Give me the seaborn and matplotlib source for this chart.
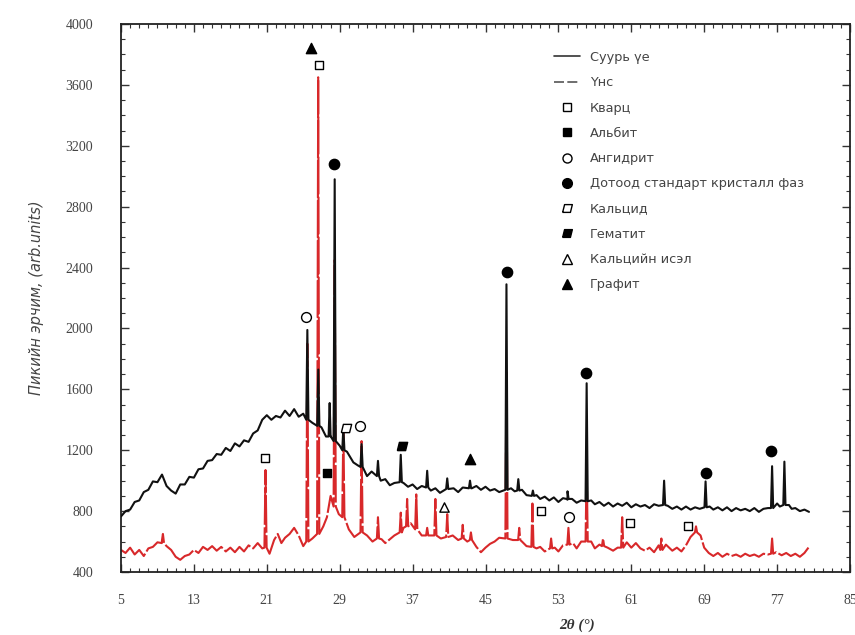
import seaborn as sns
import matplotlib.pyplot as plt
import pandas as pd
import numpy as np
from matplotlib.lines import Line2D
from matplotlib.path import Path

# ---- data ----
# base trace (Суурь үе), background points every 0.5 deg
base_x = [5.0, 5.5, 6.0, 6.5, 7.0, 7.5, 8.0, 8.5, 9.0, 9.5, 10.0, 10.5, 11.0, 11.5, 12.0, 12.5,
          13.0, 13.5, 14.0, 14.5, 15.0, 15.5, 16.0, 16.5, 17.0, 17.5, 18.0, 18.5, 19.0, 19.5,
          20.0, 20.5, 21.0, 21.5, 22.0, 22.5, 23.0, 23.5, 24.0, 24.5, 25.0, 26.0, 27.0, 27.5,
          28.0, 29.0, 29.8, 30.5, 31.0, 32.0, 32.5, 33.5, 34.0, 34.5, 35.0, 36.0, 36.5, 37.0,
          37.5, 38.0, 39.0, 39.5, 40.0, 41.5, 42.0, 42.5, 43.5, 44.0, 44.5, 45.0, 45.5, 46.0,
          46.5, 47.8, 48.2, 49.0, 49.5, 50.6, 51.0, 51.5, 52.0, 52.5, 53.0, 53.5, 54.0, 54.5,
          55.0, 55.5, 56.6, 57.0, 57.5, 58.0, 58.5, 59.0, 59.5, 60.0, 60.5, 61.0, 61.5, 62.0,
          62.5, 63.0, 63.5, 64.0, 65.0, 65.5, 66.0, 66.5, 67.0, 67.5, 68.0, 68.5, 69.6, 70.0,
          70.5, 71.0, 71.5, 72.0, 72.5, 73.0, 73.5, 74.0, 74.5, 75.0, 75.5, 76.0, 77.0, 77.3,
          78.3, 78.6, 79.0, 79.5, 80.0, 80.5]
base_y = [765, 800, 810, 860, 870, 925, 940, 995, 990, 1040, 965, 935, 915, 975, 975, 1025,
          1020, 1075, 1080, 1130, 1135, 1175, 1170, 1215, 1195, 1245, 1225, 1265, 1255, 1310,
          1330, 1400, 1430, 1400, 1425, 1415, 1460, 1425, 1470, 1420, 1440, 1380, 1350, 1290,
          1290, 1230, 1190, 1120, 1100, 1030, 1060, 1000, 1010, 970, 985, 985, 960, 975,
          945, 965, 935, 950, 920, 950, 925, 955, 950, 965, 940, 960, 935, 945,
          925, 950, 930, 940, 905, 905, 880, 895, 870, 890, 860, 885, 875, 880,
          855, 870, 870, 845, 860, 835, 855, 830, 850, 835, 855, 825, 845, 830,
          840, 820, 845, 835, 835, 815, 830, 810, 830, 810, 825, 815, 830, 810,
          825, 805, 825, 800, 820, 805, 815, 800, 820, 795, 815, 820, 850, 830,
          840, 815, 820, 800, 810, 795]
# sharp reflections: position, top, foot
base_peak_pos = [25.45, 26.65, 27.9, 28.45, 29.4, 31.4, 33.2, 35.7, 38.6, 40.8, 43.3,
                 47.3, 48.6, 50.2, 54.0, 56.1, 64.6, 69.15, 76.45, 77.8]
base_peak_top = [1990, 1730, 1510, 2980, 1345, 1240, 1130, 1170, 1065, 1015, 1000,
                 2290, 1010, 935, 930, 1640, 1000, 995, 1095, 1125]
base_peak_foot = [1400, 1360, 1290, 1260, 1200, 1090, 1030, 990, 955, 945, 950,
                  940, 935, 900, 880, 865, 840, 825, 820, 840]

# ash trace (Үнс)
ash_x = [5.0, 5.5, 6.0, 6.5, 7.0, 7.5, 8.0, 8.5, 9.0, 9.5, 10.0, 10.5, 11.0, 11.5, 12.0, 12.5,
         13.0, 13.5, 14.0, 14.5, 15.0, 15.5, 16.0, 16.5, 17.0, 17.5, 18.0, 18.5, 19.0, 19.5,
         20.0, 20.5, 21.3, 21.8, 22.2, 22.6, 23.0, 23.5, 24.0, 24.5, 25.0, 26.0, 27.2, 27.6,
         28.0, 28.9, 30.0, 30.6, 32.0, 32.6, 33.6, 34.0, 34.5, 35.0, 36.0, 36.8, 38.0, 39.0,
         40.1, 41.4, 42.0, 43.0, 44.0, 44.5, 45.0, 45.5, 46.0, 46.5, 48.0, 49.0, 49.5, 50.6,
         51.0, 51.5, 52.6, 53.0, 53.5, 54.6, 55.0, 55.5, 56.6, 57.0, 57.5, 58.4, 59.0, 59.5,
         60.5, 61.0, 61.5, 62.0, 62.5, 63.0, 63.5, 64.0, 64.8, 65.5, 66.0, 66.5, 67.0, 67.5,
         68.6, 69.0, 69.5, 70.0, 70.5, 71.0, 71.5, 72.0, 72.5, 73.0, 73.5, 74.0, 74.5, 75.0,
         75.5, 76.0, 76.9, 77.5, 78.0, 78.5, 79.0, 79.5, 80.0, 80.5]
ash_y = [545, 525, 560, 515, 545, 505, 555, 565, 595, 610, 570, 545, 500, 480, 505, 515,
         545, 525, 565, 545, 570, 540, 565, 535, 560, 530, 565, 535, 575, 555,
         590, 555, 520, 610, 650, 590, 625, 650, 690, 640, 570, 620, 700, 760,
         900, 780, 680, 630, 640, 600, 615, 590, 615, 640, 690, 720, 640, 640,
         620, 640, 610, 600, 565, 530, 560, 585, 600, 625, 610, 600, 570, 555,
         565, 535, 560, 535, 575, 590, 555, 600, 600, 555, 580, 560, 540, 560,
         595, 560, 590, 555, 540, 560, 530, 575, 580, 540, 560, 535, 575, 630,
         640, 560, 525, 505, 525, 500, 520, 505, 515, 500, 520, 505, 515, 500,
         520, 515, 530, 510, 525, 505, 520, 500, 525, 565]
ash_peak_pos = [9.6, 20.86, 25.45, 26.64, 28.45, 29.4, 31.4, 33.2, 35.7, 36.4, 37.4, 38.6,
                39.5, 40.8, 42.5, 43.4, 47.3, 48.7, 50.15, 52.2, 54.1, 56.1, 57.9, 60.0,
                64.3, 68.1, 76.45]
ash_peak_top = [650, 1070, 1900, 3650, 2450, 1350, 1260, 760, 790, 880, 910, 690,
                880, 780, 710, 660, 1720, 690, 850, 620, 690, 1100, 620, 760,
                620, 700, 620]
ash_peak_foot = [590, 560, 600, 650, 830, 760, 660, 620, 660, 700, 680, 640,
                 640, 630, 620, 610, 620, 610, 565, 555, 580, 600, 570, 560,
                 545, 660, 520]

# phase markers
quartz_x = [26.7, 20.8, 51.1, 60.9, 67.2]
quartz_y = [3730, 1150, 800, 720, 700]
albite_x = [27.6]
albite_y = [1050]
anhydrite_x = [25.35, 31.2, 54.2]
anhydrite_y = [2075, 1360, 760]
standard_x = [28.4, 47.35, 56.0, 69.2, 76.3]
standard_y = [3080, 2370, 1710, 1050, 1195]
calcite_x = [29.7]
calcite_y = [1345]
hematite_x = [35.8]
hematite_y = [1225]
cao_x = [40.5]
cao_y = [830]
graphite_x = [25.9, 43.3]
graphite_y = [3840, 1145]

legend_labels = ['Суурь үе', 'Үнс', 'Кварц', 'Альбит', 'Ангидрит',
                 'Дотоод стандарт кристалл фаз', 'Кальцид', 'Гематит',
                 'Кальцийн исэл', 'Графит']


def build_trace(bx, by, ppos, ptop, pfoot, name):
    xs = list(bx)
    ys = list(by)
    for p, t, f in zip(ppos, ptop, pfoot):
        xs += [p - 0.12, p, p + 0.12]
        ys += [f, t, f]
    df = pd.DataFrame({'x': xs, 'y': ys}).sort_values('x')
    df['trace'] = name
    return df


black = build_trace(base_x, base_y, base_peak_pos, base_peak_top, base_peak_foot, 'base')
red = build_trace(ash_x, ash_y, ash_peak_pos, ash_peak_top, ash_peak_foot, 'ash')

sns.set_style('ticks')
plt.rcParams['font.family'] = ['DejaVu Sans']

fig = plt.figure(figsize=(8.55, 6.35), dpi=100)
ax = fig.add_axes([121 / 855, 1 - 572 / 635, 729 / 855, 548 / 635])

sns.lineplot(data=red, x='x', y='y', color='#d8282a', lw=1.5,
             estimator=None, sort=False, ax=ax, zorder=2)
ax.lines[-1].set_dashes((18, 1.2))
sns.lineplot(data=black, x='x', y='y', color='#111111', lw=1.5,
             estimator=None, sort=False, ax=ax, zorder=3)

para = Path([(-1.0, -0.8), (0.6, -0.8), (1.0, 0.8), (-0.6, 0.8), (-1.0, -0.8)])
mk = dict(color='black', zorder=5, linewidths=1.0)
ax.scatter(quartz_x, quartz_y, marker='s', s=34, facecolors='white', edgecolors='black', zorder=5, linewidths=1.0)
ax.scatter(albite_x, albite_y, marker='s', s=34, **mk)
ax.scatter(anhydrite_x, anhydrite_y, marker='o', s=50, facecolors='white', edgecolors='black', zorder=5, linewidths=1.0)
ax.scatter(standard_x, standard_y, marker='o', s=55, **mk)
ax.scatter(calcite_x, calcite_y, marker=para, s=55, facecolors='white', edgecolors='black', zorder=5, linewidths=1.0)
ax.scatter(hematite_x, hematite_y, marker=para, s=55, **mk)
ax.scatter(cao_x, cao_y, marker='^', s=45, facecolors='white', edgecolors='black', zorder=5, linewidths=1.0)
ax.scatter(graphite_x, graphite_y, marker='^', s=55, **mk)

ax.set_xlim(5, 85)
ax.set_ylim(400, 4000)
ax.set_xticks(np.arange(5, 86, 8))
ax.set_yticks(np.arange(400, 4001, 400))
ax.set_xticks(np.arange(5, 86, 1), minor=True)
ax.set_yticks(np.arange(400, 4001, 100), minor=True)
ax.tick_params(which='both', direction='in', top=True, right=True, colors='#333333')
ax.tick_params(which='major', length=6, width=1.0)
ax.tick_params(which='minor', length=3, width=0.8)
ax.tick_params(axis='x', which='major', pad=16, labelsize=10, labelcolor='#444444')
ax.tick_params(axis='y', which='major', pad=20, labelsize=10, labelcolor='#444444')
for lab in ax.get_xticklabels() + ax.get_yticklabels():
    lab.set_fontfamily('Liberation Serif')
for sp in ax.spines.values():
    sp.set_linewidth(1.3)
    sp.set_color('#222222')

ax.set_xlabel('2θ (°)', fontsize=11, fontstyle='italic', fontweight='bold',
              family='Liberation Serif', color='#333333')
ax.xaxis.set_label_coords(0.625, -0.085)
ax.set_ylabel('Пикийн эрчим, (arb.units)', fontsize=10.5, fontstyle='italic',
              color='#444444')
ax.yaxis.set_label_coords(-0.106, 0.5)

handles = [
    Line2D([], [], color='#333333', lw=1.2),
    Line2D([], [], color='#555555', lw=1.2, dashes=(6, 2)),
    Line2D([], [], marker='s', ls='', mfc='white', mec='black', ms=6),
    Line2D([], [], marker='s', ls='', color='black', ms=6),
    Line2D([], [], marker='o', ls='', mfc='white', mec='black', ms=6.5),
    Line2D([], [], marker='o', ls='', color='black', ms=7),
    Line2D([], [], marker=para, ls='', mfc='white', mec='black', ms=7),
    Line2D([], [], marker=para, ls='', color='black', ms=7),
    Line2D([], [], marker='^', ls='', mfc='white', mec='black', ms=6.5),
    Line2D([], [], marker='^', ls='', color='black', ms=7),
]
leg = ax.legend(handles, legend_labels, loc='upper left', bbox_to_anchor=(0.578, 0.972),
                frameon=False, fontsize=9.3, labelspacing=0.95, handlelength=2.0,
                handletextpad=0.8, labelcolor='#444444')

fig.savefig('out.png', dpi=100)
